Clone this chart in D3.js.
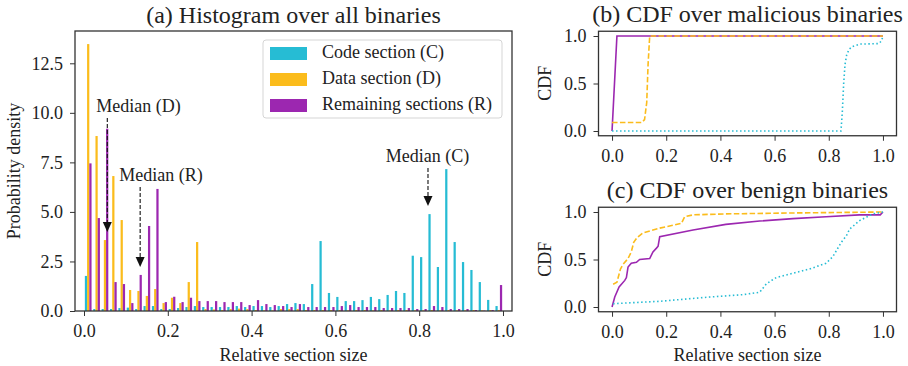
<!DOCTYPE html>
<html>
<head>
<meta charset="utf-8">
<script src="https://cdn.jsdelivr.net/npm/d3@7"></script>
<style>
  body { margin: 0; background: #fff; }
  svg, svg text { font-family: "Liberation Serif", "DejaVu Serif", serif; }
  .axis path, .axis line { stroke: #333; }
  .axis text { font-size: 18px; fill: #222; }
</style>
</head>
<body>
<svg id="chart" width="908" height="366"></svg>
<script>
const FONT = "'Liberation Serif', 'DejaVu Serif', serif";

// histogram bins: 50 bins of width 0.02 over [0, 1]
const binWidth = 0.02;
const codeDensity = [1.77, 0.1, 0.1, 0.1, 0.15, 0.17, 0.1, 0.25, 0.25, 0.1,
  0.1, 0.15, 0.2, 0.25, 0.2, 0.2, 0.2, 0.2, 0.25, 0.2,
  0.25, 0.25, 0.2, 0.25, 0.35, 0.4, 0.35, 1.36, 3.53, 0.91,
  0.71, 0.5, 0.5, 0.55, 0.71, 0.6, 0.81, 1.01, 0.91, 2.79,
  2.72, 4.89, 2.22, 7.16, 3.48, 2.47, 2.07, 1.46, 0.56, 0.25];
const dataDensity = [13.47, 8.83, 3.58, 6.81, 4.59, 1.06, 1.01, 0.76, 1.11, 0.4,
  0.67, 0.4, 1.46, 3.48, 0.1, 0.08, 0.05, 0.1, 0.12, 0.1,
  0.05, 0.03, 0.03, 0.1, 0.1, 0.1, 0.05, 0.05, 0.05, 0.05,
  0.05, 0.03, 0.05, 0.05, 0.03, 0.05, 0.03, 0.05, 0.05, 0.03,
  0.03, 0.05, 0.03, 0.05, 0.03, 0.03, 0.05, 0.03, 0.05, 0.05];
const restDensity = [7.45, 4.69, 9.2, 1.46, 1.36, 0.4, 1.82, 4.29, 6.16, 0.45,
  0.72, 0.45, 0.67, 0.5, 0.5, 0.5, 0.45, 0.45, 0.45, 0.3,
  0.55, 0.35, 0.3, 0.25, 0.2, 0.35, 0.2, 0.2, 0.2, 0.2,
  0.25, 0.3, 0.2, 0.2, 0.2, 0.15, 0.15, 0.15, 0.15, 0.1,
  0.1, 0.25, 0.2, 0.1, 0.1, 0.1, 0.05, 0.02, 0.05, 1.31];

const seriesNames = ["Code section (C)", "Data section (D)", "Remaining sections (R)"];
const colors = ["#26bcd4", "#fbbc1c", "#9c27b0"];

// median annotations
const medianLabels = ["Median (D)", "Median (R)", "Median (C)"];
const medianX = [0.0556, 0.134, 0.821];
const medianTipY = [3.99, 2.22, 5.3];
const medianTextX = [0.130, 0.184, 0.820];
const medianTextY = [10.24, 6.76, 7.72];

// CDF curves [x, cdf]
const malCode = [[0, 0], [0.845, 0], [0.85, 0.2], [0.855, 0.5], [0.86, 0.7], [0.866, 0.8], [0.875, 0.86],
  [0.888, 0.89], [0.9, 0.9], [0.915, 0.915], [0.985, 0.92], [0.995, 0.95], [1, 1]];
const malData = [[0, 0.09], [0.11, 0.09], [0.12, 0.12], [0.128, 0.3], [0.133, 0.7], [0.139, 1], [1, 1]];
const malRest = [[0, 0], [0.018, 1], [1, 1]];
const benCode = [[0.004, 0.035], [0.176, 0.06], [0.36, 0.105], [0.483, 0.13], [0.545, 0.155], [0.57, 0.245],
  [0.606, 0.31], [0.729, 0.4], [0.79, 0.46], [0.815, 0.53], [0.846, 0.68], [0.865, 0.75], [0.877, 0.82],
  [0.914, 0.91], [0.963, 0.98], [1, 1]];
const benData = [[0.004, 0.24], [0.018, 0.26], [0.031, 0.4], [0.041, 0.45], [0.059, 0.51], [0.071, 0.58],
  [0.08, 0.68], [0.092, 0.73], [0.114, 0.78], [0.176, 0.83], [0.256, 0.88], [0.268, 0.95], [0.299, 0.97],
  [0.42, 0.98], [0.67, 0.99], [1, 1]];
const benRest = [[0, 0], [0.01, 0.105], [0.026, 0.21], [0.047, 0.28], [0.053, 0.31], [0.059, 0.42],
  [0.071, 0.46], [0.09, 0.47], [0.102, 0.5], [0.139, 0.51], [0.151, 0.58], [0.164, 0.62], [0.17, 0.64],
  [0.176, 0.74], [0.299, 0.81], [0.42, 0.87], [0.545, 0.905], [0.668, 0.93], [0.79, 0.95], [0.913, 0.97],
  [0.99, 0.97], [1, 1]];

const xTicks = [0, 0.2, 0.4, 0.6, 0.8, 1.0];
const histYTicks = [0, 2.5, 5, 7.5, 10, 12.5];
const cdfYTicks = [0, 0.5, 1.0];

const svg = d3.select("#chart");

function frame(g, x0, x1, y0, y1) {
  g.append("rect")
    .attr("x", x0).attr("y", y0)
    .attr("width", x1 - x0).attr("height", y1 - y0)
    .attr("fill", "none").attr("stroke", "#333").attr("stroke-width", 1.3);
}

function label(x, y, txt, size, rotate) {
  const t = svg.append("text")
    .attr("text-anchor", "middle")
    .attr("font-family", FONT)
    .attr("font-size", size).attr("fill", "#222")
    .text(txt);
  if (rotate) t.attr("transform", `translate(${x},${y}) rotate(-90)`);
  else t.attr("x", x).attr("y", y);
  return t;
}

function styleAxis(g) {
  g.attr("font-family", FONT).attr("font-size", 18);
  g.select(".domain").remove();
}

// ---------- (a) histogram ----------
const hx = d3.scaleLinear().domain([-0.0215, 1.0215]).range([75, 512]);
const hy = d3.scaleLinear().domain([0, 14.13]).range([311, 31]);
const barW = binWidth * 0.8 / 3;

const histSeries = [codeDensity, dataDensity, restDensity];
histSeries.forEach((vals, k) => {
  svg.append("g").selectAll("rect")
    .data(vals)
    .enter()
    .append("rect")
    .attr("x", (d, i) => hx(i * binWidth + binWidth * 0.1 + k * barW))
    .attr("y", d => hy(d))
    .attr("width", hx(barW) - hx(0))
    .attr("height", d => hy(0) - hy(d))
    .attr("fill", colors[k]);
});

svg.append("g").attr("class", "axis")
  .attr("transform", "translate(0,311)")
  .call(d3.axisBottom(hx).tickValues(xTicks).tickFormat(d3.format(".1f")).tickSize(5).tickPadding(8).tickSizeOuter(0))
  .call(styleAxis);
svg.append("g").attr("class", "axis")
  .attr("transform", "translate(75,0)")
  .call(d3.axisLeft(hy).tickValues(histYTicks).tickFormat(d3.format(".1f")).tickSize(5).tickPadding(7).tickSizeOuter(0))
  .call(styleAxis);
frame(svg, 75, 512, 31, 311);

// median arrows
medianLabels.forEach((lab, i) => {
  const ax = hx(medianX[i]);
  const tip = hy(medianTipY[i]);
  const ty = hy(medianTextY[i]);
  svg.append("line")
    .attr("x1", ax).attr("x2", ax)
    .attr("y1", ty + 10).attr("y2", tip - 8)
    .attr("stroke", "#111").attr("stroke-width", 1.1)
    .attr("stroke-dasharray", "4,2");
  svg.append("path")
    .attr("d", `M${ax - 4.5},${tip - 10}L${ax + 4.5},${tip - 10}L${ax},${tip}Z`)
    .attr("fill", "#111");
  label(hx(medianTextX[i]), ty, lab, 18).attr("dominant-baseline", "middle");
});

// legend
const leg = svg.append("g");
leg.append("rect")
  .attr("x", 263).attr("y", 40).attr("width", 239).attr("height", 78).attr("rx", 3)
  .attr("fill", "#fff").attr("fill-opacity", 0.85)
  .attr("stroke", "#d5d5d5");
seriesNames.forEach((name, i) => {
  leg.append("rect")
    .attr("x", 270).attr("y", 47 + i * 26).attr("width", 37).attr("height", 13)
    .attr("fill", colors[i]);
  leg.append("text")
    .attr("x", 322).attr("y", 54 + i * 26)
    .attr("dominant-baseline", "middle")
    .attr("font-family", FONT)
    .attr("font-size", 18).attr("fill", "#222")
    .text(name);
});

label(293.5, 23, "(a) Histogram over all binaries", 24);
label(293.5, 361, "Relative section size", 18);
label(20, 171, "Probability density", 18, true);

// ---------- (b), (c) CDF panels ----------
function cdfPanel(top, title, curves, showXLabel) {
  const cx = d3.scaleLinear().domain([-0.05, 1.05]).range([598.5, 896.5]);
  const cy = d3.scaleLinear().domain([-0.05, 1.05]).range([top + 104.5, top]);
  const line = d3.line().x(d => cx(d[0])).y(d => cy(d[1]));
  const styles = [
    { data: curves[2], color: colors[2], dash: null },
    { data: curves[1], color: colors[1], dash: "5.5,2.4" },
    { data: curves[0], color: colors[0], dash: "1.5,2.5" }
  ];
  styles.forEach(s => {
    svg.append("path")
      .datum(s.data)
      .attr("d", line)
      .attr("fill", "none")
      .attr("stroke", s.color)
      .attr("stroke-width", 1.6)
      .attr("stroke-dasharray", s.dash);
  });
  svg.append("g").attr("class", "axis")
    .attr("transform", `translate(0,${top + 104.5})`)
    .call(d3.axisBottom(cx).tickValues(xTicks).tickFormat(d3.format(".1f")).tickSize(5).tickPadding(8).tickSizeOuter(0))
    .call(styleAxis);
  svg.append("g").attr("class", "axis")
    .attr("transform", "translate(598.5,0)")
    .call(d3.axisLeft(cy).tickValues(cdfYTicks).tickFormat(d3.format(".1f")).tickSize(5).tickPadding(7).tickSizeOuter(0))
    .call(styleAxis);
  frame(svg, 598.5, 896.5, top, top + 104.5);
  label(747.5, top - 9.5, title, 24);
  label(551, top + 52, "CDF", 18, true);
  if (showXLabel) label(747.5, 361, "Relative section size", 18);
}

cdfPanel(31.25, "(b) CDF over malicious binaries", [malCode, malData, malRest], false);
cdfPanel(207.25, "(c) CDF over benign binaries", [benCode, benData, benRest], true);
</script>
</body>
</html>
